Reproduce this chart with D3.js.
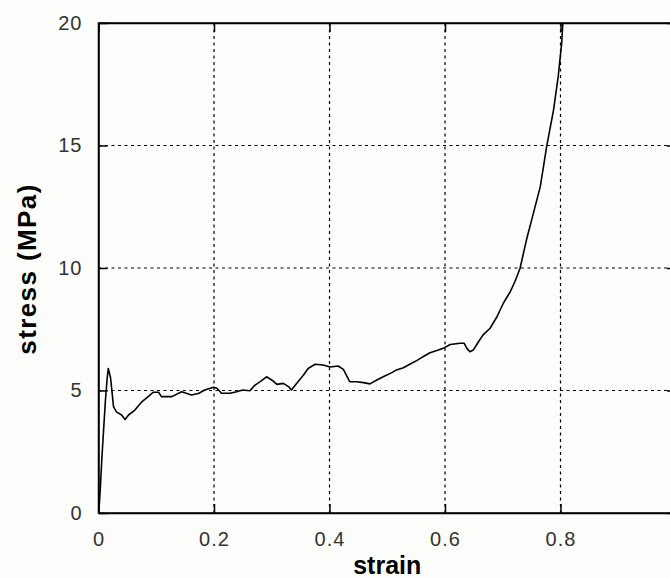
<!DOCTYPE html>
<html>
<head>
<meta charset="utf-8">
<script src="https://cdn.jsdelivr.net/npm/d3@7"></script>
<style>
  html, body { margin: 0; padding: 0; background: #fdfdfb; }
  svg { display: block; }
</style>
</head>
<body>
<script>
// ---- data ----
const strain = [0, 0.001, 0.003, 0.006, 0.009, 0.012, 0.015, 0.017, 0.021, 0.026, 0.031, 0.040, 0.046, 0.052, 0.063, 0.075, 0.086, 0.095, 0.104, 0.109, 0.127, 0.144, 0.161, 0.173, 0.184, 0.199, 0.205, 0.213, 0.228, 0.239, 0.250, 0.262, 0.271, 0.280, 0.291, 0.300, 0.309, 0.320, 0.329, 0.334, 0.343, 0.355, 0.363, 0.375, 0.389, 0.401, 0.415, 0.424, 0.435, 0.447, 0.459, 0.470, 0.482, 0.493, 0.508, 0.516, 0.528, 0.539, 0.551, 0.562, 0.574, 0.586, 0.597, 0.609, 0.626, 0.633, 0.638, 0.643, 0.649, 0.658, 0.666, 0.678, 0.690, 0.701, 0.713, 0.721, 0.730, 0.741, 0.753, 0.765, 0.776, 0.788, 0.796, 0.802, 0.804, 0.810];
const stress = [0, 0.2, 0.94, 2.3, 3.46, 4.6, 5.5, 5.9, 5.5, 4.34, 4.13, 4.0, 3.82, 4.0, 4.2, 4.54, 4.75, 4.93, 4.93, 4.75, 4.75, 4.95, 4.82, 4.88, 5.02, 5.13, 5.09, 4.89, 4.89, 4.95, 5.02, 4.99, 5.22, 5.36, 5.56, 5.43, 5.25, 5.29, 5.16, 5.02, 5.29, 5.63, 5.9, 6.07, 6.04, 5.96, 6.0, 5.86, 5.36, 5.36, 5.32, 5.27, 5.43, 5.56, 5.73, 5.84, 5.93, 6.07, 6.22, 6.38, 6.54, 6.63, 6.72, 6.88, 6.93, 6.93, 6.72, 6.58, 6.65, 6.99, 7.27, 7.54, 8.01, 8.56, 9.03, 9.44, 9.99, 11.14, 12.23, 13.32, 14.95, 16.45, 17.81, 19.17, 19.99, 21.5];
const xTicks = [0, 0.2, 0.4, 0.6, 0.8, 1];
const xTickLabels = ["0", "0.2", "0.4", "0.6", "0.8", ""];
const yTicks = [0, 5, 10, 15, 20];
const xLabel = "strain";
const yLabel = "stress (MPa)";

// ---- layout ----
const W = 670, H = 578;
const mLeft = 98.5, mRight = 676, mTop = 23, mBottom = 513;

const svg = d3.select("body").append("svg").attr("width", W).attr("height", H);
svg.append("rect").attr("width", W).attr("height", H).attr("fill", "#fdfdfb");

const x = d3.scaleLinear().domain([0, 1]).range([mLeft, mRight]);
const y = d3.scaleLinear().domain([0, 20]).range([mBottom, mTop]);

svg.append("defs").append("clipPath").attr("id", "clip")
  .append("rect").attr("x", mLeft).attr("y", mTop).attr("width", mRight - mLeft).attr("height", mBottom - mTop);

// grid
const grid = svg.append("g").attr("stroke", "#000").attr("stroke-width", 1.2).attr("stroke-dasharray", "3,3.5");
grid.selectAll(".gx").data(xTicks.filter(d => d > 0 && d < 1)).join("line")
  .attr("x1", d => x(d)).attr("x2", d => x(d)).attr("y1", mTop).attr("y2", mBottom);
grid.selectAll(".gy").data(yTicks.filter(d => d > 0 && d < 20)).join("line")
  .attr("y1", d => y(d)).attr("y2", d => y(d)).attr("x1", mLeft).attr("x2", mRight);

// axes (inward ticks, MATLAB style)
const tl = 9;
const xAxisB = d3.axisBottom(x).tickValues(xTicks).tickFormat((d, i) => xTickLabels[i]).tickSizeInner(-tl).tickSizeOuter(0).tickPadding(19);
const yAxisL = d3.axisLeft(y).tickValues(yTicks).tickSizeInner(-tl).tickSizeOuter(0).tickPadding(16);
const gx = svg.append("g").attr("transform", `translate(0,${mBottom})`).call(xAxisB);
const gy = svg.append("g").attr("transform", `translate(${mLeft},0)`).call(yAxisL);
svg.append("g").attr("transform", `translate(0,${mTop})`).call(d3.axisTop(x).tickValues(xTicks).tickSizeInner(-tl).tickSizeOuter(0).tickFormat(""));
svg.append("g").attr("transform", `translate(${mRight},0)`).call(d3.axisRight(y).tickValues(yTicks).tickSizeInner(-tl).tickSizeOuter(0).tickFormat(""));

svg.selectAll(".domain").attr("stroke", "#000").attr("stroke-width", 1.5);
svg.selectAll(".tick line").attr("stroke", "#000").attr("stroke-width", 1.5);
[gx, gy].forEach(g => g.selectAll("text")
  .attr("font-family", "'Liberation Sans', Arial, sans-serif")
  .attr("font-size", 20).attr("fill", "#333").style("letter-spacing", "1px"));

// box
svg.append("rect").attr("x", mLeft).attr("y", mTop).attr("width", mRight - mLeft).attr("height", mBottom - mTop)
  .attr("fill", "none").attr("stroke", "#000").attr("stroke-width", 1.5);

// curve
const line = d3.line().x((d, i) => x(strain[i])).y((d, i) => y(stress[i]));
svg.append("path").datum(stress).attr("clip-path", "url(#clip)")
  .attr("d", line).attr("fill", "none").attr("stroke", "#000").attr("stroke-width", 1.6)
  .attr("stroke-linejoin", "round");

// labels
svg.append("text").text(xLabel)
  .attr("x", (mLeft + mRight) / 2).attr("y", 574).attr("text-anchor", "middle")
  .attr("font-family", "'Liberation Sans', Arial, sans-serif").attr("font-weight", "bold")
  .attr("font-size", 25).attr("fill", "#000");
svg.append("text").text(yLabel)
  .attr("transform", `translate(36,269) rotate(-90)`).attr("text-anchor", "middle")
  .attr("font-family", "'Liberation Sans', Arial, sans-serif").attr("font-weight", "bold")
  .attr("font-size", 26).attr("fill", "#000").style("letter-spacing", "1.4px");
</script>
</body>
</html>
